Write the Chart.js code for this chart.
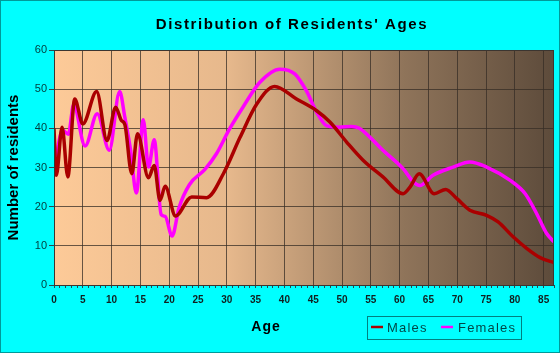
<!DOCTYPE html>
<html>
<head>
<meta charset="utf-8">
<script src="https://cdn.jsdelivr.net/npm/chart.js@4"></script>
<style>
  html, body { margin: 0; padding: 0; background: #00ffff; }
  #wrap { width: 560px; height: 353px; }
</style>
</head>
<body>
<div id="wrap"><canvas id="ageChart" width="560" height="353"></canvas></div>
<script>
// ages (x) and the matching values (y)
const maleAges = [0, 0.4, 1.4, 2.4, 3.6, 5, 7.4, 9.2, 10.7, 11.7, 12.3, 13.5, 14.5, 16.4, 17.4, 18.4, 19.3, 21.1, 23.9, 26.5, 29.4, 32.3, 35.2, 38.3, 42.1, 45.6, 47.9, 50.8, 53.7, 57.1, 60.6, 61.8, 63.4, 66, 68, 69.9, 72.2, 75.1, 77.1, 79.7, 82.1, 84.4, 86.8];
const maleCounts = [40, 28, 40.3, 27.6, 47.5, 41.1, 49.4, 36.9, 45.4, 42, 41, 28.4, 38.6, 27.4, 30.5, 21.6, 25.2, 17.6, 22.5, 22.3, 28.4, 37.7, 46.2, 50.7, 47.5, 44.5, 41.6, 36.5, 31.8, 27.6, 23.3, 25, 28.4, 23.3, 24.4, 22.1, 19.1, 17.8, 16.1, 12.3, 9.3, 7, 5.7];

const femaleAges = [0, 0.9, 1.5, 2.5, 3.4, 5.4, 7.5, 9.6, 11.4, 12.3, 13.3, 14.3, 15.5, 16.4, 17.4, 18.6, 19.3, 20.5, 21.7, 23.5, 26.2, 28.2, 30.5, 32.8, 35.7, 39.2, 41.8, 43.8, 45.6, 47.3, 49.5, 51.7, 53, 55, 57.1, 60.6, 62.4, 63.5, 65.8, 69.3, 72.2, 75.1, 79.2, 81.8, 83.8, 85.5, 86.8];
const femaleCounts = [28.5, 37, 39.5, 38.5, 46, 35.5, 43.7, 34.4, 49.4, 42.8, 34.4, 23.5, 42.2, 30.1, 37.1, 18, 17.5, 12.5, 19.7, 25.6, 29.5, 33.5, 39.9, 45.4, 51.7, 55.1, 53.9, 49.6, 44.1, 40.7, 40.3, 40.5, 40, 37.5, 34.4, 29.7, 26.3, 25.4, 28, 30.1, 31.4, 30.1, 26.7, 23.3, 18.2, 13.2, 11];

const seriesNames = ['Males', 'Females'];
const seriesColors = ['#aa0000', '#ff00ff'];

const toPoints = (xs, ys) => xs.map((x, i) => ({ x: x, y: ys[i] }));

// ===================================
// DECORATION PLUGIN
// ===================================
const decor = {
    id: 'decor',
    beforeDraw(chart) {
        const { ctx, chartArea: a } = chart;
        ctx.save();
        ctx.fillStyle = '#00ffff';
        ctx.fillRect(0, 0, chart.width, chart.height);
        const g = ctx.createLinearGradient(a.left, 0, a.right, 0);
        g.addColorStop(0, '#fdca98');
        g.addColorStop(0.35, '#e6b88c');
        g.addColorStop(0.7, '#8f745a');
        g.addColorStop(1, '#5d4b3b');
        ctx.fillStyle = g;
        ctx.fillRect(a.left, a.top, a.right - a.left, a.bottom - a.top);
        ctx.restore();
    },
    afterDraw(chart) {
        const { ctx, chartArea: a } = chart;
        ctx.save();
        // plot frame
        ctx.strokeStyle = '#3c3530';
        ctx.lineWidth = 1;
        ctx.strokeRect(a.left + 0.5, a.top + 0.5, a.right - a.left - 1, a.bottom - a.top);
        // outer border
        ctx.strokeStyle = '#009a9a';
        ctx.strokeRect(0.5, 0.5, chart.width - 1, chart.height - 1);

        // title
        ctx.fillStyle = '#000';
        ctx.textAlign = 'center';
        ctx.textBaseline = 'middle';
        ctx.font = 'bold 15px "Liberation Sans", Arial, sans-serif';
        ctx.letterSpacing = '1.6px';
        ctx.fillText("Distribution of Residents' Ages", 292, 25);

        // x axis title
        ctx.font = 'bold 14px "Liberation Sans", Arial, sans-serif';
        ctx.letterSpacing = '1px';
        ctx.fillText('Age', 266, 327);

        // legend
        ctx.letterSpacing = '0px';
        ctx.strokeStyle = '#008080';
        ctx.strokeRect(367.5, 316.5, 154, 23);
        const marks = [[371, 383], [441, 453]];
        const textX = [387, 458];
        ctx.font = '13px "Liberation Sans", Arial, sans-serif';
        ctx.letterSpacing = '1.2px';
        ctx.textAlign = 'left';
        seriesNames.forEach((name, i) => {
            ctx.strokeStyle = seriesColors[i];
            ctx.lineWidth = 2.5;
            ctx.beginPath();
            ctx.moveTo(marks[i][0], 327);
            ctx.lineTo(marks[i][1], 327);
            ctx.stroke();
            ctx.fillStyle = '#004848';
            ctx.fillText(name, textX[i], 328);
        });
        ctx.restore();
    }
};

const gridCol = 'rgba(55, 45, 38, 0.75)';

new Chart(document.getElementById('ageChart'), {
    type: 'line',
    data: {
        datasets: [
            {
                label: seriesNames[0],
                data: toPoints(maleAges, maleCounts),
                borderColor: seriesColors[0],
                borderWidth: 3.5,
                pointRadius: 0,
                cubicInterpolationMode: 'monotone',
                fill: false
            },
            {
                label: seriesNames[1],
                data: toPoints(femaleAges, femaleCounts),
                borderColor: seriesColors[1],
                borderWidth: 3.5,
                pointRadius: 0,
                cubicInterpolationMode: 'monotone',
                fill: false
            }
        ]
    },
    options: {
        responsive: false,
        animation: false,
        layout: { padding: { top: 50, right: 6, left: 0, bottom: 0 } },
        plugins: {
            legend: { display: false },
            title: { display: false },
            tooltip: { enabled: false }
        },
        scales: {
            x: {
                type: 'linear',
                min: 0,
                max: 86.8,
                afterFit: (s) => { s.height = 68; },
                ticks: {
                    stepSize: 1,
                    autoSkip: false,
                    maxRotation: 0,
                    padding: 6,
                    color: '#102020',
                    font: { size: 10, weight: 'bold', family: '"Liberation Sans", Arial, sans-serif' },
                    callback: (v) => (v % 5 === 0 ? String(v) : '')
                },
                grid: {
                    color: (c) => (c.tick && c.tick.value % 5 === 0 && c.tick.value > 0 ? gridCol : 'transparent'),
                    tickColor: '#2a4a4a',
                    tickLength: 3,
                    drawOnChartArea: true
                },
                border: { display: true, color: '#2a4a4a' }
            },
            y: {
                min: 0,
                max: 60,
                afterFit: (s) => { s.width = 54; },
                ticks: {
                    stepSize: 10,
                    padding: 2,
                    color: '#004040',
                    font: { size: 11, family: '"Liberation Sans", Arial, sans-serif' }
                },
                grid: {
                    color: (c) => (c.tick && c.tick.value > 0 ? gridCol : 'transparent'),
                    tickColor: '#2a4a4a',
                    tickLength: 5
                },
                border: { display: true, color: '#2a4a4a' },
                title: {
                    display: true,
                    text: 'Number of residents',
                    color: '#000',
                    padding: { top: 5, bottom: 0 },
                    font: { size: 15, weight: 'bold', family: '"Liberation Sans", Arial, sans-serif' }
                }
            }
        }
    },
    plugins: [decor]
});
</script>
</body>
</html>
